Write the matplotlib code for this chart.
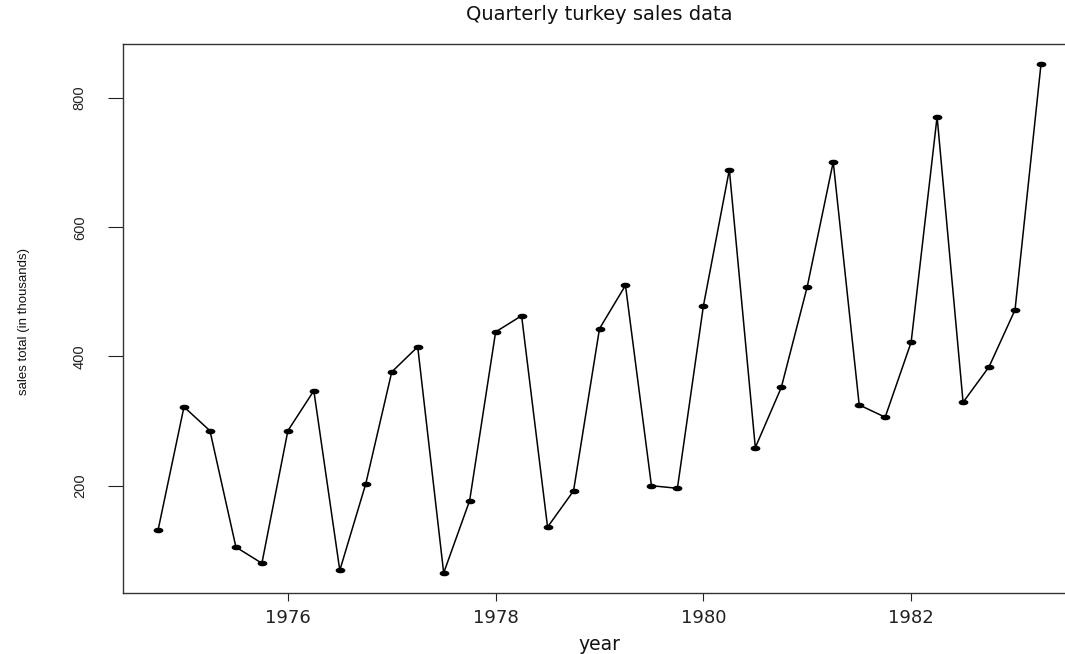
import matplotlib
matplotlib.use("Agg")
import matplotlib.pyplot as plt
import numpy as np
import pandas as pd
from matplotlib.path import Path

# quarterly turkey sales (in thousands), 1974 Q4 .. 1983 Q2
sales = [131, 322, 285, 105, 80, 285, 347, 69, 203, 376, 415, 65,
         177, 438, 463, 136, 192, 443, 510, 200, 196, 478, 689, 259,
         352, 508, 701, 325, 306, 422, 771, 329, 384, 472, 852]
quarters = pd.period_range("1974Q4", "1983Q2", freq="Q")
year_ticks = [1976, 1978, 1980, 1982]
y_ticks = [200, 400, 600, 800]

# time axis like R's ts(): year + (quarter - 1) / 4
t = quarters.year + (quarters.quarter - 1) / 4.0

W, H = 1065, 654
fig = plt.figure(figsize=(W / 100, H / 100), dpi=100)
ax = fig.add_axes([122.7 / W, 1 - 593.3 / H, (1076.3 - 122.7) / W, (593.3 - 44) / H])

# flat ellipse marker, the reference points look squashed
circ = Path.unit_circle()
ell = Path(circ.vertices * np.array([1.0, 0.5]), circ.codes)

ax.plot(t, sales, color="black", lw=1.1, marker=ell, ms=6, mfc="black", mec="black")

# R-style range: data range padded by 4%
xr = t.max() - t.min()
ax.set_xlim(t.min() - 0.04 * xr, t.max() + 0.04 * xr)
yr = max(sales) - min(sales)
ax.set_ylim(min(sales) - 0.04 * yr, max(sales) + 0.04 * yr)

ax.set_xticks(year_ticks)
ax.set_xticklabels([str(y) for y in year_ticks], family="DejaVu Sans", fontsize=13)
ax.set_yticks(y_ticks)
ax.set_yticklabels([str(v) for v in y_ticks], family=["Liberation Sans", "DejaVu Sans"],
                   fontsize=10.5, rotation=90, va="center")

ax.tick_params(axis="x", length=5.5, width=0.8, pad=6, colors="#222222")
ax.tick_params(axis="y", length=10.8, width=0.8, pad=15, colors="#222222")
for s in ax.spines.values():
    s.set_color("#333333")
    s.set_linewidth(1.0)

fig.text(599 / W, 1 - 15 / H, "Quarterly turkey sales data", family="DejaVu Sans",
         fontsize=14, ha="center", va="center", color="#111111")
fig.text(599 / W, 1 - 644 / H, "year", family="DejaVu Sans",
         fontsize=13.5, ha="center", va="center", color="#111111")
fig.text(24 / W, 1 - 321 / H, "sales total (in thousands)",
         family=["Liberation Sans", "DejaVu Sans"], fontsize=9.5,
         rotation=90, ha="center", va="center", color="#111111")

fig.savefig("out.png", dpi=100)
